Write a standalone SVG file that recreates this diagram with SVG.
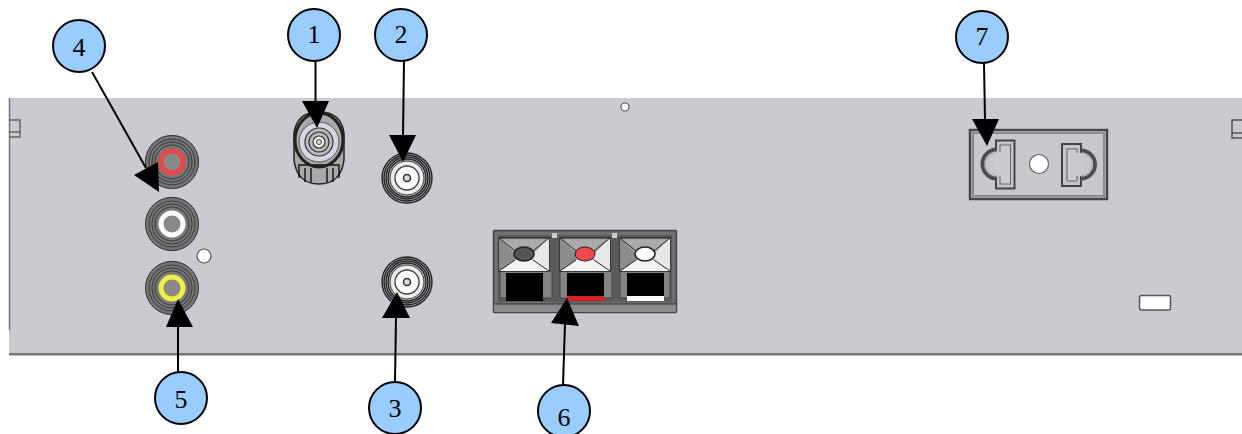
<svg xmlns="http://www.w3.org/2000/svg" width="1242" height="434" viewBox="0 0 1242 434">
<style>
.c{fill:#99ccff;stroke:#000;stroke-width:2}
.t{font-family:"Liberation Serif",serif;font-size:26px;text-anchor:middle;fill:#000}
.l{stroke:#000;stroke-width:2;fill:none}
.r{fill:none;stroke:#333;stroke-width:1}
.b{fill:none;stroke:#222;stroke-width:1.4}
.f{fill:#c4c4ca;stroke:#444;stroke-width:2}
.i{fill:#cbcad0;stroke:#666;stroke-width:1}
.a{fill:none;stroke:#4c4c52;stroke-width:5}
.h{fill:none;stroke:#b4b4c4;stroke-width:1.500}
</style>
<defs>
<filter id="s" x="-5%" y="-5%" width="110%" height="110%"><feGaussianBlur stdDeviation="0.5"/></filter>
<g id="rca"><circle r="27" fill="#777"/><circle r="26.500" class="r"/><circle r="23" class="r"/><circle r="20" class="r"/><circle r="17" class="r"/></g>
<g id="bnc"><circle r="25" fill="#bdbdc2"/><circle r="25" class="b"/><circle r="23" class="b"/><circle r="21" class="b"/><circle r="19" class="b"/><circle r="17" fill="#ececee" stroke="#333"/><circle r="12" fill="#fff" stroke="#444" stroke-width="1.400"/><circle r="3.500" fill="#ddd" stroke="#333" stroke-width="1.600"/></g>
<g id="spk"><rect x="-25" y="-33" width="50" height="33" fill="#aaa" stroke="#222" stroke-width="1.200"/><path d="M-25-33L-9-17L-9-8L-25 0Z" fill="#8c8c8c"/><path d="M25-33L9-17L9-8L25 0Z" fill="#e8e8e8"/><path d="M-25 0L-9-11H9L25 0Z" fill="#f2f2f2"/><path d="M-25-33L-9-20M25-33L9-20M-25 0L-9-11M25 0L9-11" stroke="#222" stroke-width="1" fill="none"/></g>
</defs>
<rect id="panel" x="9" y="98" width="1233" height="257" fill="#cbcad0"/>
<g id="photo" filter="url(#s)">
<path d="M9.500 98V330" stroke="#777" stroke-width="1.500" fill="none"/>
<rect x="9" y="353" width="1233" height="2.500" fill="#777"/>
<path d="M9 120H20V137H9M9 132H20" fill="none" stroke="#666" stroke-width="1.500"/>
<path d="M1242 120H1232V138H1242M1232 133H1242" fill="none" stroke="#555" stroke-width="1.500"/>
<circle cx="625" cy="107" r="4" fill="#fff" stroke="#555" stroke-width="1.200"/>
<circle cx="204" cy="256" r="7" fill="#fff" stroke="#555" stroke-width="1.200"/>
<rect x="1139.500" y="295.500" width="31" height="14.500" rx="2" fill="#fff" stroke="#555" stroke-width="1.500"/>
<use href="#rca" x="172" y="162"/><circle cx="172" cy="162" r="11" fill="#888" stroke="#e8474b" stroke-width="5"/>
<use href="#rca" x="172" y="224"/><circle cx="172" cy="224" r="11" fill="#888" stroke="#fff" stroke-width="5"/>
<use href="#rca" x="172" y="288"/><circle cx="172" cy="288" r="11" fill="#888" stroke="#f2ee4a" stroke-width="5"/>
<path d="M294 133Q297 112 319 112Q341 112 344 133V160Q341 184 319 184Q297 184 294 160Z" fill="#aaa" stroke="#222" stroke-width="1.500"/>
<path d="M299 166V178M305 168V182M311 168V183M327 168V183M333 168V182M339 166V178M298 165H340" stroke="#111" stroke-width="1.400" fill="none"/>
<ellipse cx="319" cy="140" rx="24" ry="27" fill="none" stroke="#222" stroke-width="3"/>
<circle cx="319" cy="142" r="20" fill="#d5d5e4" stroke="#555"/>
<circle cx="319" cy="142" r="14" fill="#bbb" stroke="#333" stroke-width="1.200"/><circle cx="319" cy="142" r="10" fill="none" stroke="#333" stroke-width="1.200"/><circle cx="319" cy="142" r="6" fill="#eee" stroke="#333" stroke-width="1.200"/><circle cx="319" cy="142" r="2.500" fill="#ddd" stroke="#444"/>
<use href="#bnc" x="407" y="178"/>
<use href="#bnc" x="407" y="282"/>
<rect x="493.500" y="230.500" width="183" height="82" rx="1" fill="#6f6f6f" stroke="#444" stroke-width="1.500"/>
<rect x="494" y="304" width="182" height="8" fill="#8a8a8a"/><path d="M494 304H676" stroke="#333"/>
<rect x="498" y="235" width="174" height="67" fill="#5a5a5a"/>
<rect x="552" y="233" width="5" height="5" fill="#ccc"/><rect x="612" y="233" width="5" height="5" fill="#ccc"/>
<path d="M500 272V298H552V272M560 272V298H612V272M620 272V298H670V272" fill="#848484" stroke="#444"/>
<use href="#spk" x="524" y="271"/><use href="#spk" x="585" y="271"/><use href="#spk" x="645" y="271"/>
<ellipse cx="524" cy="254" rx="10" ry="7" fill="#555" stroke="#222" stroke-width="1.500"/>
<ellipse cx="585" cy="254" rx="10" ry="7" fill="#f0484c" stroke="#222" stroke-width="1"/>
<ellipse cx="645" cy="254" rx="10" ry="7" fill="#fff" stroke="#222" stroke-width="1.500"/>
<rect x="506" y="273" width="37" height="28" fill="#000"/>
<rect x="567" y="273" width="37" height="28" fill="#000"/><rect x="567" y="296" width="37" height="5" fill="#d42027"/>
<rect x="627" y="273" width="37" height="28" fill="#000"/><rect x="627" y="296" width="37" height="5" fill="#fff"/>
<rect x="970" y="130" width="137" height="69" fill="#c8c8cc" stroke="#444" stroke-width="2.500"/>
<rect x="973" y="133" width="131" height="63" fill="none" stroke="#8a8a8e" stroke-width="2"/>
<rect class="f" x="996" y="140.500" width="18.500" height="48"/>
<rect class="i" x="1000" y="145" width="10.500" height="39"/>
<rect x="994" y="152" width="8" height="24" fill="#cbcad0"/>
<path class="a" d="M997 150A14 14 0 0 0 997 178"/><path class="h" d="M997 152A12 12 0 0 0 997 176"/>
<rect class="f" x="1062" y="144" width="19" height="42"/>
<rect class="i" x="1067" y="149" width="10" height="32"/>
<rect x="1075" y="153" width="8" height="23" fill="#cbcad0"/>
<path class="a" d="M1081 151A13.500 13.500 0 0 1 1081 178"/><path class="h" d="M1081 153A11.500 11.500 0 0 1 1081 176"/>
<circle cx="1039" cy="164" r="9.500" fill="#fff" stroke="#666" stroke-width="1.200"/>
</g>
<g id="connectors">
<path class="l" d="M92 72L146 168"/><path d="M134 175L158 162L159 192Z"/>
<path class="l" d="M315.500 61V102"/><path d="M317 128L302 101H329Z"/>
<path class="l" d="M404 61L403 136"/><path d="M403 162L389 135H416Z"/>
<path class="l" d="M395 382L396 317"/><path d="M397 292L382 318H410Z"/>
<path class="l" d="M178 373V326"/><path d="M178 299L166 327H193Z"/>
<path class="l" d="M563 385L565 324"/><path d="M567 298L551 323L579 326Z"/>
<path class="l" d="M984 63L985 120"/><path d="M987 146L972 119H999Z"/>
</g>
<g id="n1"><circle class="c" cx="314" cy="35" r="26"/><text class="t" x="314" y="43">1</text></g>
<g id="n2"><circle class="c" cx="401" cy="35" r="26"/><text class="t" x="401" y="43">2</text></g>
<g id="n3"><circle class="c" cx="395" cy="408" r="26"/><text class="t" x="395" y="417">3</text></g>
<g id="n4"><circle class="c" cx="79" cy="46" r="26"/><text class="t" x="79" y="56">4</text></g>
<g id="n5"><circle class="c" cx="181" cy="398" r="26"/><text class="t" x="181" y="408">5</text></g>
<g id="n6"><circle class="c" cx="564" cy="411" r="26"/><text class="t" x="564" y="426">6</text></g>
<g id="n7"><circle class="c" cx="982" cy="37" r="26"/><text class="t" x="982" y="45">7</text></g>
</svg>
